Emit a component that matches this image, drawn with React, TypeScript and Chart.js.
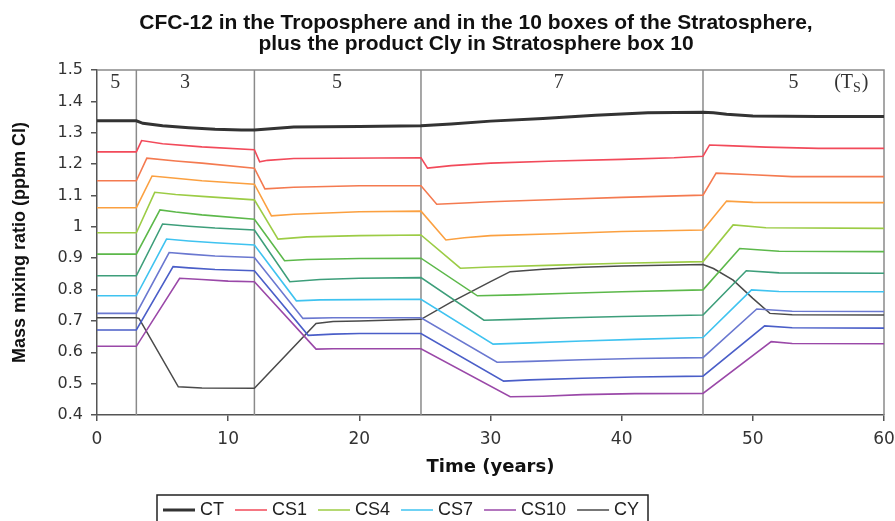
import React, { useEffect, useRef } from 'react';
import { Chart, registerables } from 'chart.js';
Chart.register(...registerables);

// ---------- data ----------
const titleLines = [
  'CFC-12 in the Troposphere and in the 10 boxes of the Stratosphere,',
  'plus the product Cly in Stratosphere box 10',
];
const xAxisTitle = 'Time (years)';
const yAxisTitle = 'Mass mixing ratio (ppbm Cl)';
const xTickValues = [0, 10, 20, 30, 40, 50, 60];
const yTickValues = [0.4, 0.5, 0.6, 0.7, 0.8, 0.9, 1.0, 1.1, 1.2, 1.3, 1.4, 1.5];
const boundaryYears = [3, 12, 24.7, 46.2];
const tsLabels = ['5', '3', '5', '7', '5'];

const ctTime = [0, 3, 3.5, 5, 7, 9, 11, 12, 13, 15, 20, 24.7, 27, 30, 34, 38, 42, 46.2, 47, 48, 50, 55, 60];
const ctValues = [1.338, 1.338, 1.330, 1.322, 1.316, 1.311, 1.309, 1.309, 1.312, 1.318, 1.320, 1.322, 1.328, 1.337, 1.345, 1.356, 1.364, 1.365, 1.364, 1.359, 1.353, 1.352, 1.352];

const cs1Time = [0, 3, 3.4, 5, 8, 12, 12.4, 13, 15, 24.7, 25.2, 27, 30, 35, 40, 44, 46.2, 46.7, 48, 51, 55, 60];
const cs1Values = [1.239, 1.239, 1.275, 1.265, 1.255, 1.246, 1.207, 1.212, 1.218, 1.220, 1.187, 1.195, 1.203, 1.210, 1.215, 1.220, 1.225, 1.261, 1.259, 1.254, 1.250, 1.250];

const cs2Time = [0, 3, 3.8, 6, 8, 12, 12.8, 15, 20, 24.7, 25.9, 28, 30, 35, 40, 46.2, 47.2, 50, 53, 60];
const cs2Values = [1.147, 1.147, 1.219, 1.210, 1.203, 1.187, 1.121, 1.126, 1.131, 1.131, 1.072, 1.076, 1.080, 1.087, 1.094, 1.101, 1.171, 1.166, 1.160, 1.160];

const cs3Time = [0, 3, 4.2, 6, 8, 12, 13.3, 15, 20, 24.7, 26.6, 28, 30, 35, 40, 46.2, 48, 50, 60];
const cs3Values = [1.061, 1.061, 1.162, 1.155, 1.147, 1.136, 1.035, 1.040, 1.048, 1.050, 0.958, 0.965, 0.972, 0.978, 0.985, 0.990, 1.082, 1.078, 1.077];

const cs4Time = [0, 3, 4.4, 6, 8, 12, 13.8, 16, 20, 24.7, 27.7, 30, 35, 40, 46.2, 48.5, 51, 60];
const cs4Values = [0.981, 0.981, 1.110, 1.103, 1.097, 1.086, 0.961, 0.968, 0.972, 0.974, 0.868, 0.872, 0.878, 0.884, 0.889, 1.006, 0.997, 0.995];

const cs5Time = [0, 3, 4.8, 6, 8, 12, 14.3, 16, 20, 24.7, 29, 32, 36, 40, 46.2, 49, 52, 60];
const cs5Values = [0.913, 0.913, 1.054, 1.047, 1.038, 1.024, 0.892, 0.896, 0.899, 0.900, 0.780, 0.783, 0.788, 0.793, 0.799, 0.931, 0.922, 0.921];

const cs6Time = [0, 3, 5.0, 7, 9, 12, 14.7, 17, 20, 24.7, 29.5, 32, 36, 40, 46.2, 49.5, 52, 60];
const cs6Values = [0.844, 0.844, 1.009, 1.002, 0.996, 0.990, 0.825, 0.832, 0.836, 0.838, 0.702, 0.705, 0.710, 0.714, 0.719, 0.860, 0.853, 0.852];

const cs7Time = [0, 3, 5.3, 7, 9, 12, 15.2, 17, 20, 24.7, 30.2, 33, 37, 41, 46.2, 49.9, 52, 60];
const cs7Values = [0.780, 0.780, 0.961, 0.955, 0.949, 0.942, 0.764, 0.767, 0.768, 0.769, 0.626, 0.630, 0.636, 0.641, 0.647, 0.799, 0.794, 0.793];

const cs8Time = [0, 3, 5.5, 7, 9, 12, 15.7, 18, 20, 24.7, 30.5, 33, 37, 41, 46.2, 50.3, 53, 60];
const cs8Values = [0.724, 0.724, 0.918, 0.913, 0.907, 0.902, 0.708, 0.710, 0.710, 0.710, 0.568, 0.571, 0.576, 0.580, 0.583, 0.738, 0.731, 0.730];

const cs9Time = [0, 3, 5.8, 7, 9, 12, 16.1, 18, 20, 24.7, 31, 33, 37, 41, 46.2, 50.9, 53, 60];
const cs9Values = [0.671, 0.671, 0.873, 0.869, 0.864, 0.860, 0.654, 0.658, 0.660, 0.660, 0.508, 0.512, 0.517, 0.521, 0.524, 0.684, 0.678, 0.677];

const cs10Time = [0, 3, 6.3, 8, 10, 12, 16.7, 18, 20, 24.7, 31.5, 34, 37, 41, 46.2, 51.4, 53, 60];
const cs10Values = [0.619, 0.619, 0.836, 0.832, 0.827, 0.825, 0.610, 0.611, 0.611, 0.611, 0.458, 0.460, 0.465, 0.468, 0.469, 0.634, 0.628, 0.627];

const cyTime = [0, 3, 3.2, 6.2, 8, 12, 16.7, 18, 20, 24.7, 27, 30, 31.5, 34, 37, 40, 46.2, 47, 48.5, 50, 51.3, 53, 60];
const cyValues = [0.710, 0.710, 0.708, 0.490, 0.486, 0.485, 0.692, 0.698, 0.700, 0.705, 0.760, 0.825, 0.857, 0.865, 0.871, 0.875, 0.880, 0.867, 0.830, 0.772, 0.724, 0.720, 0.719];

const seriesNames = ['CT', 'CS1', 'CS2', 'CS3', 'CS4', 'CS5', 'CS6', 'CS7', 'CS8', 'CS9', 'CS10', 'CY'];
const seriesTimes = [ctTime, cs1Time, cs2Time, cs3Time, cs4Time, cs5Time, cs6Time, cs7Time, cs8Time, cs9Time, cs10Time, cyTime];
const seriesValues = [ctValues, cs1Values, cs2Values, cs3Values, cs4Values, cs5Values, cs6Values, cs7Values, cs8Values, cs9Values, cs10Values, cyValues];
const legendNames = ['CT', 'CS1', 'CS4', 'CS7', 'CS10', 'CY'];

// ---------- styles ----------
const seriesColors = ['#333333', '#f24a5a', '#f47a50', '#fba040', '#9ccc45', '#5cb84a', '#3d9e7a', '#3fc3f0', '#6a78d0', '#4a5ec8', '#9a48a8', '#4a4a4a'];
const seriesWidths = [3, 1.6, 1.6, 1.6, 1.6, 1.6, 1.6, 1.6, 1.6, 1.6, 1.6, 1.5];

const TITLE_FONT = 'bold 21px "Liberation Sans", Arial, sans-serif';
const SERIF_FONT = '20px "Liberation Serif", "Times New Roman", serif';
const SERIF_SMALL = '14px "Liberation Serif", "Times New Roman", serif';
const LEGEND_FONT = '18px "Liberation Sans", Arial, sans-serif';

const overlayPlugin = {
  id: 'overlay',
  beforeDatasetsDraw(chart: any) {
    const { ctx, chartArea } = chart;
    const xs = chart.scales.x;
    ctx.save();
    ctx.strokeStyle = '#8a8a8a';
    ctx.lineWidth = 1.5;
    ctx.beginPath();
    ctx.moveTo(chartArea.left, chartArea.top);
    ctx.lineTo(chartArea.right, chartArea.top);
    ctx.lineTo(chartArea.right, chartArea.bottom);
    ctx.stroke();
    boundaryYears.forEach((yr) => {
      const px = xs.getPixelForValue(yr);
      ctx.beginPath();
      ctx.moveTo(px, chartArea.top);
      ctx.lineTo(px, chartArea.bottom);
      ctx.stroke();
    });
    ctx.restore();
  },
  afterDraw(chart: any) {
    const { ctx, chartArea } = chart;
    const xs = chart.scales.x;
    ctx.save();
    // title
    ctx.fillStyle = '#111';
    ctx.font = TITLE_FONT;
    ctx.textAlign = 'center';
    ctx.textBaseline = 'middle';
    titleLines.forEach((t, i) => ctx.fillText(t, 476, 23 + i * 21));

    // Ts labels
    const labelYears = [1.4, 6.7, 18.3, 35.2, 53.1];
    ctx.font = SERIF_FONT;
    ctx.fillStyle = '#333';
    const ly = chartArea.top + 13;
    tsLabels.forEach((t, i) => ctx.fillText(t, xs.getPixelForValue(labelYears[i]), ly));
    ctx.textAlign = 'left';
    let tx = xs.getPixelForValue(56.2);
    ctx.fillText('(T', tx, ly);
    tx += ctx.measureText('(T').width;
    ctx.font = SERIF_SMALL;
    ctx.fillText('S', tx, ly + 5);
    tx += ctx.measureText('S').width + 1;
    ctx.font = SERIF_FONT;
    ctx.fillText(')', tx, ly);

    // legend
    const boxL = 157, boxT = 495, boxR = 648;
    ctx.strokeStyle = '#222';
    ctx.lineWidth = 1.5;
    ctx.strokeRect(boxL, boxT, boxR - boxL, 40);
    let x = 163;
    const y = 510;
    ctx.font = LEGEND_FONT;
    ctx.textBaseline = 'middle';
    legendNames.forEach((name) => {
      const i = seriesNames.indexOf(name);
      ctx.strokeStyle = seriesColors[i];
      ctx.lineWidth = seriesWidths[i];
      ctx.beginPath();
      ctx.moveTo(x, y);
      ctx.lineTo(x + 32, y);
      ctx.stroke();
      ctx.fillStyle = '#222';
      ctx.fillText(name, x + 37, y);
      x += 37 + ctx.measureText(name).width + 11;
    });
    ctx.restore();
  },
};

export default function App() {
  const ref = useRef<HTMLCanvasElement | null>(null);
  useEffect(() => {
    document.body.style.margin = '0';
    const canvas = ref.current;
    if (!canvas) return;
    const datasets = seriesNames.map((name, i) => ({
      label: name,
      data: seriesTimes[i].map((t, j) => ({ x: t, y: seriesValues[i][j] })),
      borderColor: seriesColors[i],
      backgroundColor: seriesColors[i],
      borderWidth: seriesWidths[i],
      pointRadius: 0,
      tension: 0,
      fill: false,
    }));
    const tickFont = { family: '"DejaVu Sans", Verdana, sans-serif', size: 16 };
    const chart = new Chart(canvas, {
      type: 'line',
      data: { datasets },
      plugins: [overlayPlugin],
      options: {
        responsive: false,
        animation: false,
        layout: { padding: { left: 0, right: 11, top: 70, bottom: 0 } },
        plugins: { legend: { display: false }, tooltip: { enabled: false }, title: { display: false } },
        scales: {
          x: {
            type: 'linear',
            min: 0,
            max: 60,
            afterBuildTicks: (s: any) => { s.ticks = xTickValues.map((v) => ({ value: v })); },
            ticks: { font: { ...tickFont, size: 17 }, color: '#333', padding: 8, maxRotation: 0 },
            grid: { drawOnChartArea: false, tickLength: 6, color: '#555', lineWidth: 1.5 },
            border: { color: '#555', width: 1.5 },
            title: {
              display: true,
              text: xAxisTitle,
              color: '#111',
              font: { family: '"DejaVu Sans", Verdana, sans-serif', size: 18, weight: 'bold', lineHeight: 1.2 },
              padding: { top: 0, bottom: 43 },
            },
            afterFit: (s: any) => { s.height = 106; s.paddingLeft = 0; s.paddingRight = 0; },
          },
          y: {
            type: 'linear',
            min: 0.4,
            max: 1.5,
            afterBuildTicks: (s: any) => { s.ticks = yTickValues.map((v) => ({ value: v })); },
            ticks: {
              font: tickFont,
              color: '#333',
              padding: 8,
              callback: (v: any) => Number(v).toFixed(1).replace(/\.0$/, ''),
            },
            grid: { drawOnChartArea: false, tickLength: 6, color: '#555', lineWidth: 1.5 },
            border: { color: '#555', width: 1.5 },
            title: {
              display: true,
              text: yAxisTitle,
              color: '#111',
              font: { family: '"Liberation Sans", Arial, sans-serif', size: 18, weight: 'bold', lineHeight: 1.2 },
              padding: { top: 9, bottom: 0 },
            },
            afterFit: (s: any) => { s.width = 97; s.paddingTop = 0; s.paddingBottom = 0; },
          },
        },
      },
    } as any);
    return () => chart.destroy();
  }, []);
  return <canvas ref={ref} width={895} height={521} style={{ display: 'block' }} />;
}
